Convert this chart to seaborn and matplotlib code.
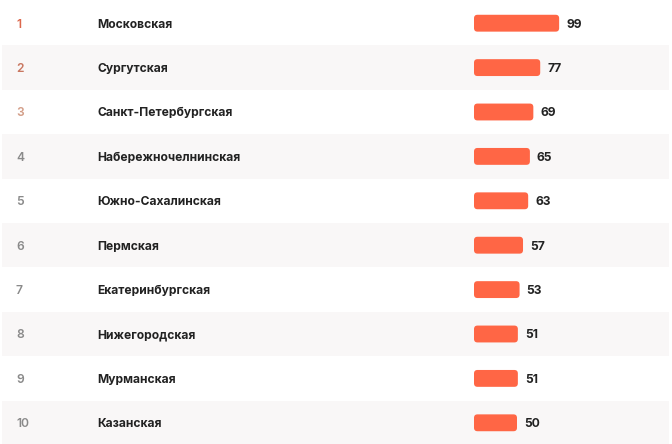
import matplotlib
matplotlib.use("Agg")
import matplotlib.pyplot as plt
from matplotlib.patches import FancyBboxPatch
import seaborn as sns
import pandas as pd

# Data
ranks = [1, 2, 3, 4, 5, 6, 7, 8, 9, 10]
names = ["Московская", "Сургутская", "Санкт-Петербургская", "Набережночелнинская",
         "Южно-Сахалинская", "Пермская", "Екатеринбургская", "Нижегородская",
         "Мурманская", "Казанская"]
values = [99, 77, 69, 65, 63, 57, 53, 51, 51, 50]
rank_colors = ["#dc684d", "#c97760", "#d39e88"] + ["#8a8a8a"] * 7

df = pd.DataFrame({"rank": ranks, "name": names, "value": values})

sns.set_theme(style="white")
plt.rcParams["font.family"] = ["Inter", "DejaVu Sans"]

W, H = 672, 444
fig = plt.figure(figsize=(W / 100, H / 100), dpi=100)
ax = fig.add_axes([0, 0, 1, 1])

bar_color = "#ff6645"
sns.barplot(data=df, x="value", y="name", order=names, color=bar_color,
            width=0.38, saturation=1, ax=ax)

# pixel mapping: bars start at x=474px, 0.86 px per unit
x0, ppu = 474, 0.86
row_px = H / len(names)
ax.set_xlim(-x0 / ppu, (W - x0) / ppu)
ax.set_ylim(len(names) - 0.5 - 1 / row_px, -0.5 - 1 / row_px)

# rounded bars
r = 3.5 / ppu
aspect = (1 / row_px) / (1 / ppu)
for p in list(ax.patches):
    bx, by, bw, bh = p.get_x(), p.get_y(), p.get_width(), p.get_height()
    p.remove()
    ax.add_patch(FancyBboxPatch((bx, by), bw, bh,
                                boxstyle=f"round,pad=0,rounding_size={r}",
                                mutation_aspect=aspect, fc=bar_color, ec="none",
                                zorder=2))

# alternating row bands
for i in range(len(names)):
    if i % 2 == 1:
        ax.axhspan(i - 0.5, i + 0.5, xmin=2 / W, xmax=669 / W,
                   color="#f9f7f7", zorder=0, lw=0)

fs = 8.7
base = 4.4 / row_px
for i, (rk, n, v) in enumerate(zip(ranks, names, values)):
    ax.text((16 - x0) / ppu, i + base, str(rk), va="baseline", ha="left",
            fontsize=fs, fontweight="semibold", color=rank_colors[i])
    ax.text((97 - x0) / ppu, i + base, n, va="baseline", ha="left",
            fontsize=fs, fontweight="bold", color="#222222")
    ax.text(v + 7 / ppu, i + base, str(v), va="baseline", ha="left",
            fontsize=fs, fontweight="bold", color="#222222")

ax.set_axis_off()
fig.savefig("out.png", dpi=100, facecolor="white")
